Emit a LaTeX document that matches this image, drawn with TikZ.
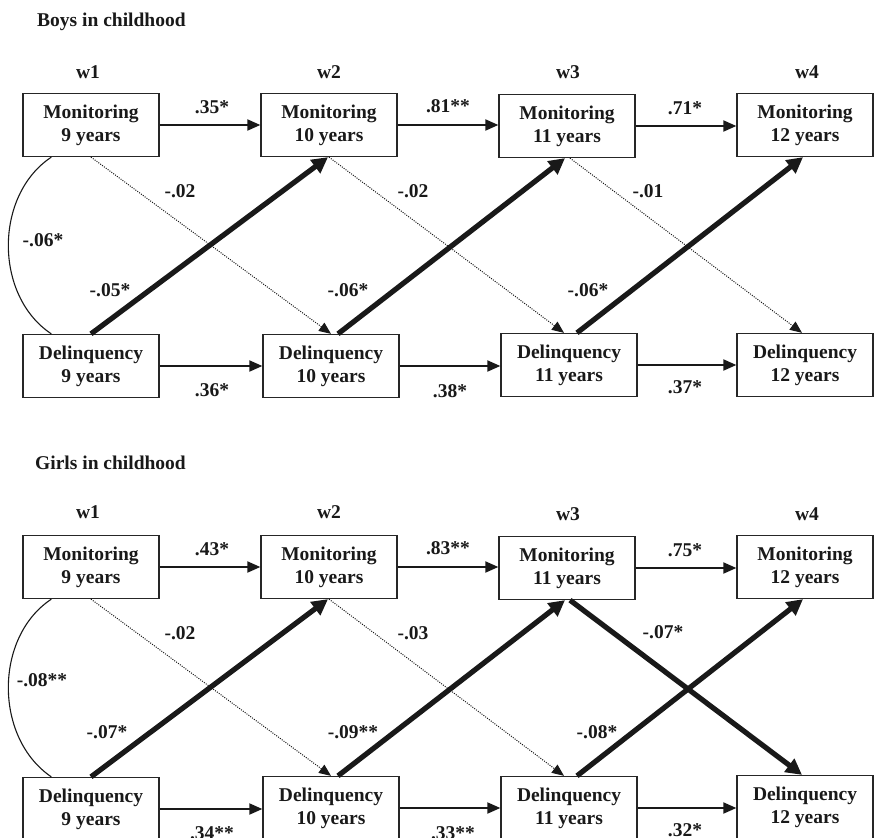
\documentclass[tikz,border=0pt]{standalone}
\usepackage{fontspec}
\setmainfont{Liberation Serif}
\usetikzlibrary{arrows.meta}
\begin{document}
\begin{tikzpicture}[x=1pt,y=-1pt,
  every node/.style={font=\fontsize{19.5}{23}\selectfont\bfseries, text=black!90},
  box/.style={draw=black!85, line width=1.3pt, minimum width=136pt, minimum height=63pt, inner sep=0pt, align=center, fill=white},
  lbl/.style={inner sep=0pt},
  harrow/.style={draw=black!90, line width=1.9pt, -{Triangle[length=13pt,width=11pt]}},
  tharrow/.style={draw=black!90, line width=5.2pt, -{Triangle[length=16pt,width=16pt]}},
  dotarrow/.style={draw=black!90, line width=1pt, dash pattern=on 1pt off 1.3pt, -{Triangle[length=12pt,width=10pt]}},
  corr/.style={draw=black!90, line width=1.1pt}]
\useasboundingbox (0,0) rectangle (874,837);
\fill[white] (0,0) rectangle (874,837);

% ---------------- Boys ----------------
\node[lbl, anchor=west] (Btitle) at (37,22) {Boys in childhood};
\node[lbl] (Bw1) at (88,72) {w1};
\node[lbl] (Bw2) at (329,72) {w2};
\node[lbl] (Bw3) at (568,72) {w3};
\node[lbl] (Bw4) at (807,72) {w4};

\node[box] (Bm9)  at (91,125)  {Monitoring\\9 years};
\node[box] (Bm10) at (329,125) {Monitoring\\10 years};
\node[box] (Bm11) at (567,126) {Monitoring\\11 years};
\node[box] (Bm12) at (805,125) {Monitoring\\12 years};
\node[box] (Bd9)  at (91,366)  {Delinquency\\9 years};
\node[box] (Bd10) at (331,366) {Delinquency\\10 years};
\node[box] (Bd11) at (569,365) {Delinquency\\11 years};
\node[box] (Bd12) at (805,365) {Delinquency\\12 years};

\draw[harrow] (Bm9.east) -- (Bm9.east -| Bm10.west);
\draw[harrow] (Bm10.east) -- (Bm10.east -| Bm11.west);
\draw[harrow] (Bm11.east) -- (Bm11.east -| Bm12.west);
\draw[harrow] (Bd9.east) -- (Bd9.east -| Bd10.west);
\draw[harrow] (Bd10.east) -- (Bd10.east -| Bd11.west);
\draw[harrow] (Bd11.east) -- (Bd11.east -| Bd12.west);

\draw[dotarrow] (Bm9.south) -- (Bd10.north);
\draw[dotarrow] (Bm10.south) -- ([xshift=-5pt]Bd11.north);
\draw[dotarrow] ([xshift=3pt]Bm11.south) -- ([xshift=-3pt]Bd12.north);

\draw[tharrow] (Bd9.north) -- ([xshift=-1pt]Bm10.south);
\draw[tharrow] ([xshift=7pt]Bd10.north) -- ([xshift=-2pt]Bm11.south);
\draw[tharrow] ([xshift=8pt]Bd11.north) -- ([xshift=-2pt]Bm12.south);

\draw[corr] ([xshift=29pt]Bm9.south west) .. controls (-6,195) and (-6,296) .. ([xshift=29pt]Bd9.north west);

\node[lbl] (Bl1) at (212,107) {.35*};
\node[lbl] (Bl2) at (448,106) {.81**};
\node[lbl] (Bl3) at (685,108) {.71*};
\node[lbl] (Bl4) at (212,390) {.36*};
\node[lbl] (Bl5) at (450,391) {.38*};
\node[lbl] (Bl6) at (685,387) {.37*};
\node[lbl] (Bl7) at (180,191) {-.02};
\node[lbl] (Bl8) at (413,191) {-.02};
\node[lbl] (Bl9) at (648,191) {-.01};
\node[lbl] (Bl10) at (110,290) {-.05*};
\node[lbl] (Bl11) at (348,290) {-.06*};
\node[lbl] (Bl12) at (588,290) {-.06*};
\node[lbl] (Bl13) at (43,240) {-.06*};

% ---------------- Girls ----------------
\node[lbl, anchor=west] (Gtitle) at (35,463) {Girls in childhood};
\node[lbl] (Gw1) at (88,512) {w1};
\node[lbl] (Gw2) at (329,512) {w2};
\node[lbl] (Gw3) at (568,514) {w3};
\node[lbl] (Gw4) at (807,514) {w4};

\node[box] (Gm9)  at (91,567)  {Monitoring\\9 years};
\node[box] (Gm10) at (329,567) {Monitoring\\10 years};
\node[box] (Gm11) at (567,568) {Monitoring\\11 years};
\node[box] (Gm12) at (805,567) {Monitoring\\12 years};
\node[box] (Gd9)  at (91,809)  {Delinquency\\9 years};
\node[box] (Gd10) at (331,808) {Delinquency\\10 years};
\node[box] (Gd11) at (569,808) {Delinquency\\11 years};
\node[box] (Gd12) at (805,807) {Delinquency\\12 years};

\draw[harrow] (Gm9.east) -- (Gm9.east -| Gm10.west);
\draw[harrow] (Gm10.east) -- (Gm10.east -| Gm11.west);
\draw[harrow] (Gm11.east) -- (Gm11.east -| Gm12.west);
\draw[harrow] (Gd9.east) -- (Gd9.east -| Gd10.west);
\draw[harrow] (Gd10.east) -- (Gd10.east -| Gd11.west);
\draw[harrow] (Gd11.east) -- (Gd11.east -| Gd12.west);

\draw[dotarrow] (Gm9.south) -- (Gd10.north);
\draw[dotarrow] (Gm10.south) -- ([xshift=-5pt]Gd11.north);
\draw[tharrow] ([xshift=3pt]Gm11.south) -- ([xshift=-3pt]Gd12.north);

\draw[tharrow] (Gd9.north) -- ([xshift=-1pt]Gm10.south);
\draw[tharrow] ([xshift=7pt]Gd10.north) -- ([xshift=-2pt]Gm11.south);
\draw[tharrow] ([xshift=8pt]Gd11.north) -- ([xshift=-2pt]Gm12.south);

\draw[corr] ([xshift=29pt]Gm9.south west) .. controls (-6,637) and (-6,738) .. ([xshift=29pt]Gd9.north west);

\node[lbl] (Gl1) at (212,549) {.43*};
\node[lbl] (Gl2) at (448,548) {.83**};
\node[lbl] (Gl3) at (685,550) {.75*};
\node[lbl] (Gl4) at (212,833) {.34**};
\node[lbl] (Gl5) at (453,833) {.33**};
\node[lbl] (Gl6) at (685,830) {.32*};
\node[lbl] (Gl7) at (180,633) {-.02};
\node[lbl] (Gl8) at (413,633) {-.03};
\node[lbl] (Gl9) at (663,632) {-.07*};
\node[lbl] (Gl10) at (107,732) {-.07*};
\node[lbl] (Gl11) at (353,732) {-.09**};
\node[lbl] (Gl12) at (597,732) {-.08*};
\node[lbl] (Gl13) at (42,680) {-.08**};
\end{tikzpicture}
\end{document}
